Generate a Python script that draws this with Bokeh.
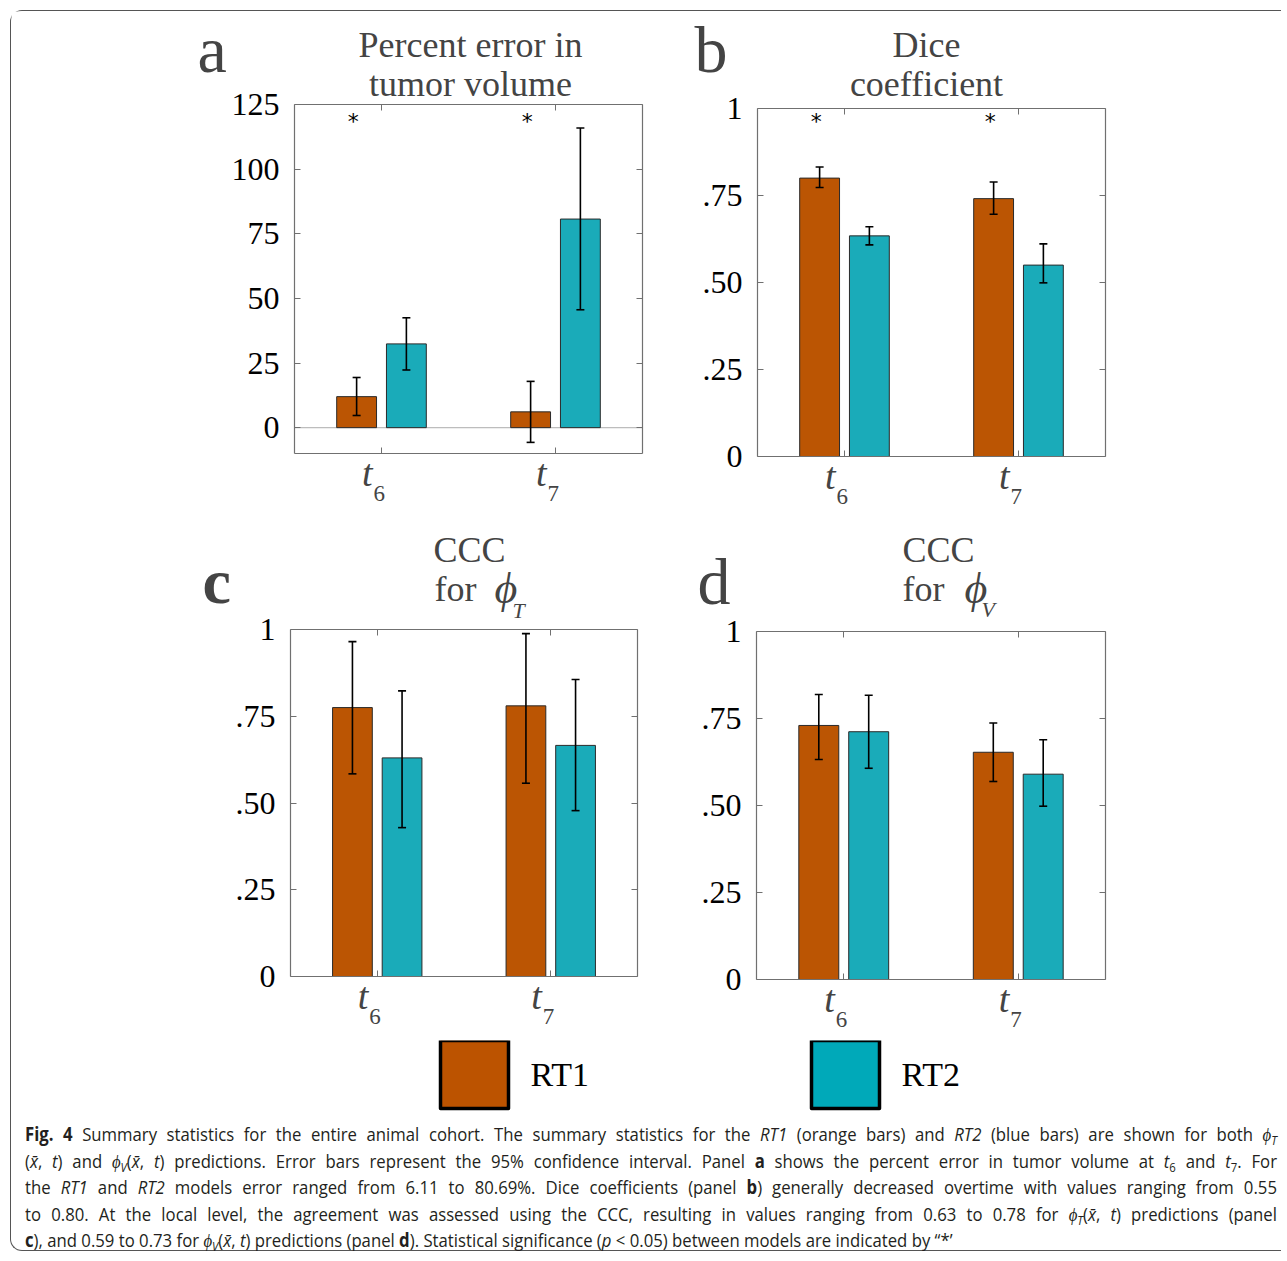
from bokeh.plotting import figure
from bokeh.models import (Range1d, FixedTicker, LinearAxis, Label, ColumnDataSource,
                          Whisker, TeeHead, Div)
from bokeh.layouts import row, column
from bokeh.embed import file_html
from bokeh.resources import INLINE

# ---------------- data ----------------
categories = ["t6", "t7"]
cat_main = ["t", "t"]
cat_sub = ["6", "7"]
models = ["RT1", "RT2"]

# panel a: percent error in tumor volume
a_rt1 = [12.0, 6.11]
a_rt1_lo = [4.7, -5.7]
a_rt1_hi = [19.4, 17.9]
a_rt2 = [32.4, 80.69]
a_rt2_lo = [22.3, 45.6]
a_rt2_hi = [42.5, 115.9]
a_sig = [True, True]
a_ticks = [0, 25, 50, 75, 100, 125]
a_tick_labels = ["0", "25", "50", "75", "100", "125"]

# panel b: Dice coefficient
b_rt1 = [0.80, 0.741]
b_rt1_lo = [0.773, 0.696]
b_rt1_hi = [0.832, 0.789]
b_rt2 = [0.634, 0.55]
b_rt2_lo = [0.608, 0.499]
b_rt2_hi = [0.660, 0.611]
b_sig = [True, True]

# panel c: CCC for phi_T
c_rt1 = [0.775, 0.78]
c_rt1_lo = [0.584, 0.557]
c_rt1_hi = [0.965, 0.988]
c_rt2 = [0.63, 0.666]
c_rt2_lo = [0.429, 0.478]
c_rt2_hi = [0.823, 0.856]
c_sig = [False, False]

# panel d: CCC for phi_V
d_rt1 = [0.73, 0.653]
d_rt1_lo = [0.632, 0.569]
d_rt1_hi = [0.819, 0.737]
d_rt2 = [0.712, 0.59]
d_rt2_lo = [0.607, 0.498]
d_rt2_hi = [0.817, 0.689]
d_sig = [False, False]

unit_ticks = [0, 0.25, 0.5, 0.75, 1]
unit_tick_labels = ["0", ".25", ".50", ".75", "1"]

# ---------------- style ----------------
ORANGE = "#BB5503"
TEAL = "#1AABB9"
LEG_COLORS = ["#BC5300", "#00A9B9"]
FRAME = "#707070"
SERIF = "Liberation Serif"
OFF = 0.143
BAR_W = 0.229
BASE_FIX = 0.37   # empirical shift so that a label's baseline lands on the given page y


def tick_axis(ax, labels):
    ax.axis_line_color = FRAME
    ax.axis_line_width = 1.2
    ax.major_tick_line_color = FRAME
    ax.major_tick_in = 6
    ax.major_tick_out = 0
    ax.minor_tick_line_color = None
    ax.major_label_text_font = SERIF
    ax.major_label_text_font_size = "32px" if labels else "6px"
    ax.major_label_text_color = "black"
    ax.major_label_standoff = 15 if labels else 0


def make_panel(X0, Y0, W, H, box, yr, yticks, ylabels,
               rt1, rt1_lo, rt1_hi, rt2, rt2_lo, rt2_hi, sig, texts, zero_line=False):
    bx0, by0, bx1, by1 = box
    n = len(categories)
    xlo, xhi = 0.5, n + 0.5
    ppx = (bx1 - bx0) / (xhi - xlo)
    ppy = (by1 - by0) / (yr[1] - yr[0])
    xr = Range1d(xlo - (bx0 - X0) / ppx, xhi + (X0 + W - bx1) / ppx)
    yrng = Range1d(yr[0] - (Y0 + H - by1) / ppy, yr[1] + (by0 - Y0) / ppy)

    def X(px):
        return xr.start + (px - X0) / ppx

    def Y(py):
        return yrng.end - (py - Y0) / ppy

    def YB(py, size):  # baseline position for a label of given font size
        return Y(py - BASE_FIX * size)

    p = figure(width=W, height=H, min_border=0, x_range=xr, y_range=yrng,
               x_axis_location=None, y_axis_location=None,
               toolbar_location=None, tools="", output_backend="svg")
    p.grid.visible = False
    p.outline_line_color = None
    p.background_fill_color = "white"
    p.border_fill_color = "white"

    xt = [i + 1 for i in range(n)]
    left = LinearAxis(fixed_location=xlo, bounds=(yr[0], yr[1]),
                      ticker=FixedTicker(ticks=yticks),
                      major_label_overrides={t: l for t, l in zip(yticks, ylabels)})
    tick_axis(left, True)
    p.add_layout(left, "left")
    right = LinearAxis(fixed_location=xhi, bounds=(yr[0], yr[1]),
                       ticker=FixedTicker(ticks=yticks),
                       major_label_overrides={t: "" for t in yticks})
    tick_axis(right, False)
    p.add_layout(right, "right")
    bottom = LinearAxis(fixed_location=yr[0], bounds=(xlo, xhi),
                        ticker=FixedTicker(ticks=xt),
                        major_label_overrides={t: "" for t in xt})
    tick_axis(bottom, False)
    p.add_layout(bottom, "below")
    top = LinearAxis(fixed_location=yr[1], bounds=(xlo, xhi),
                     ticker=FixedTicker(ticks=xt),
                     major_label_overrides={t: "" for t in xt})
    tick_axis(top, False)
    p.add_layout(top, "above")

    if zero_line:
        p.segment(x0=[xlo], x1=[xhi], y0=[0], y1=[0], line_color="#bdbdbd", line_width=1.3,
                  level="underlay")

    x1 = [x - OFF for x in xt]
    x2 = [x + OFF for x in xt]
    p.vbar(x=x1, top=rt1, bottom=0, width=BAR_W, fill_color=ORANGE,
           line_color="#2a2a2a", line_width=1)
    p.vbar(x=x2, top=rt2, bottom=0, width=BAR_W, fill_color=TEAL,
           line_color="#2a2a2a", line_width=1)
    for xs, lo, hi in [(x1, rt1_lo, rt1_hi), (x2, rt2_lo, rt2_hi)]:
        src = ColumnDataSource(dict(x=xs, lo=lo, hi=hi))
        p.add_layout(Whisker(base="x", lower="lo", upper="hi", source=src,
                             dimension="height", line_color="black", line_width=1.6,
                             level="annotation",
                             upper_head=TeeHead(size=8, line_width=1.6, line_color="black"),
                             lower_head=TeeHead(size=8, line_width=1.6, line_color="black")))
    for xs, s in zip(x1, sig):
        if s:
            p.add_layout(Label(x=xs - 0.02, y=Y(121), text="*", text_font="DejaVu Sans",
                               text_font_size="22px", text_align="center",
                               text_baseline="middle", text_color="black"))

    # category labels: italic t with subscript index
    for x, m, s in zip(xt, cat_main, cat_sub):
        p.add_layout(Label(x=x, x_offset=-9, y=YB(by1 + 34, 38), text=m, text_font=SERIF,
                           text_font_style="italic", text_font_size="38px",
                           text_align="right", text_baseline="alphabetic"))
        p.add_layout(Label(x=x, x_offset=-8, y=YB(by1 + 49, 23), text=s, text_font=SERIF,
                           text_font_size="23px", text_align="left",
                           text_baseline="alphabetic"))

    # panel letter and titles: (text, page x, page baseline y, size px, style, align)
    for t, px, py, size, style, align in texts:
        p.add_layout(Label(x=X(px), y=YB(py, size), text=t, text_font=SERIF,
                           text_font_size="%dpx" % size, text_font_style=style,
                           text_align=align, text_baseline="alphabetic"))
    return p


XS = 688  # page x where the right-hand column of panels starts
pa = make_panel(11, 11, XS - 11, 504, (294, 104, 642, 453), (-10, 125), a_ticks, a_tick_labels,
                a_rt1, a_rt1_lo, a_rt1_hi, a_rt2, a_rt2_lo, a_rt2_hi, a_sig,
                [("a", 197, 73, 66, "normal", "left"),
                 ("Percent error in", 470, 58, 36, "normal", "center"),
                 ("tumor volume", 470, 97, 36, "normal", "center")],
                zero_line=True)
pb = make_panel(XS, 11, 1281 - XS, 504, (757, 108, 1105, 456), (0, 1), unit_ticks,
                unit_tick_labels,
                b_rt1, b_rt1_lo, b_rt1_hi, b_rt2, b_rt2_lo, b_rt2_hi, b_sig,
                [("b", 694, 73, 66, "normal", "left"),
                 ("Dice", 926, 58, 36, "normal", "center"),
                 ("coefficient", 926, 97, 36, "normal", "center")])
pc = make_panel(11, 515, XS - 11, 525, (290, 629, 637, 976), (0, 1), unit_ticks,
                unit_tick_labels,
                c_rt1, c_rt1_lo, c_rt1_hi, c_rt2, c_rt2_lo, c_rt2_hi, c_sig,
                [("c", 202, 605, 64, "bold", "left"),
                 ("CCC", 469, 563, 36, "normal", "center"),
                 ("for", 476, 602, 36, "normal", "right"),
                 ("ϕ", 494, 604, 44, "italic", "left"),
                 ("T", 512, 618, 22, "italic", "left")])
pd = make_panel(XS, 515, 1281 - XS, 525, (756, 631, 1105, 979), (0, 1), unit_ticks,
                unit_tick_labels,
                d_rt1, d_rt1_lo, d_rt1_hi, d_rt2, d_rt2_lo, d_rt2_hi, d_sig,
                [("d", 697, 605, 66, "normal", "left"),
                 ("CCC", 938, 563, 36, "normal", "center"),
                 ("for", 944, 602, 36, "normal", "right"),
                 ("ϕ", 964, 604, 44, "italic", "left"),
                 ("V", 981, 617, 22, "italic", "left")])

# ---------------- legend (page-pixel coordinates) ----------------
leg_swatch_left = [440, 811]
lf = figure(width=1270, height=78, min_border=0, x_range=Range1d(11, 1281),
            y_range=Range1d(1118, 1040), x_axis_location=None, y_axis_location=None,
            toolbar_location=None, tools="", output_backend="svg")
lf.grid.visible = False
lf.outline_line_color = None
for name, col, x0 in zip(models, LEG_COLORS, leg_swatch_left):
    lf.rect(x=[x0 + 34], y=[1074], width=68, height=68, fill_color=col,
            line_color="black", line_width=3.5, line_join="round")
    lf.add_layout(Label(x=x0 + 90, y=1074, text=name, text_font=SERIF,
                        text_font_size="34px", text_align="left", text_baseline="middle",
                        text_color="black"))

# ---------------- caption ----------------
XB = '<i>x&#772;</i>'
XT = '(' + XB + ', <i>t</i>)'
SUB = '<sub style="font-size:68%;vertical-align:-0.3em;line-height:0">'
PHI_T = '<i>ϕ</i>' + SUB + '<i>T</i></sub>'
PHI_V = '<i>ϕ</i>' + SUB + '<i>V</i></sub>'
cap_lines = [
    '<b>Fig. 4</b> Summary statistics for the entire animal cohort. The summary statistics for the '
    '<i>RT1</i> (orange bars) and <i>RT2</i> (blue bars) are shown for both ' + PHI_T,
    XT + ' and ' + PHI_V + XT + ' predictions. Error bars represent the 95% confidence interval. '
    'Panel <b>a</b> shows the percent error in tumor volume at <i>t</i>' + SUB + '6</sub> and <i>t</i>'
    + SUB + '7</sub>. For',
    'the <i>RT1</i> and <i>RT2</i> models error ranged from 6.11 to 80.69%. Dice coefficients '
    '(panel <b>b</b>) generally decreased overtime with values ranging from 0.55',
    'to 0.80. At the local level, the agreement was assessed using the CCC, resulting in values '
    'ranging from 0.63 to 0.78 for ' + PHI_T + XT + ' predictions (panel',
    '<b>c</b>), and 0.59 to 0.73 for ' + PHI_V + XT + ' predictions (panel <b>d</b>). Statistical '
    'significance (<i>p</i> &lt; 0.05) between models are indicated by “*’',
]
S = 0.88
W = 1252 / S
html = ('<div style="box-sizing:border-box;width:1270px;overflow:hidden;padding-left:14px;'
        'padding-top:3px;font-family:\'Open Sans\';font-size:19px;color:#231f20;">')
for i, ln in enumerate(cap_lines):
    last = "left" if i == len(cap_lines) - 1 else "justify"
    html += ('<div style="width:%.1fpx;transform:scaleX(%.2f);transform-origin:0 0;'
             'text-align:justify;text-align-last:%s;height:26.5px;line-height:26.5px;">%s</div>'
             % (W, S, last, ln))
html += '</div>'
cap = Div(text=html, width=1270, height=132, margin=0)

layout = column(row(pa, pb), row(pc, pd), lf, cap, margin=(10, 0, 0, 10),
                styles={"border-top": "1.5px solid #555", "border-left": "1.5px solid #555",
                        "border-bottom": "1.5px solid #555",
                        "border-top-left-radius": "12px", "border-bottom-left-radius": "12px"})

open("out.html", "w").write(file_html(layout, INLINE))
